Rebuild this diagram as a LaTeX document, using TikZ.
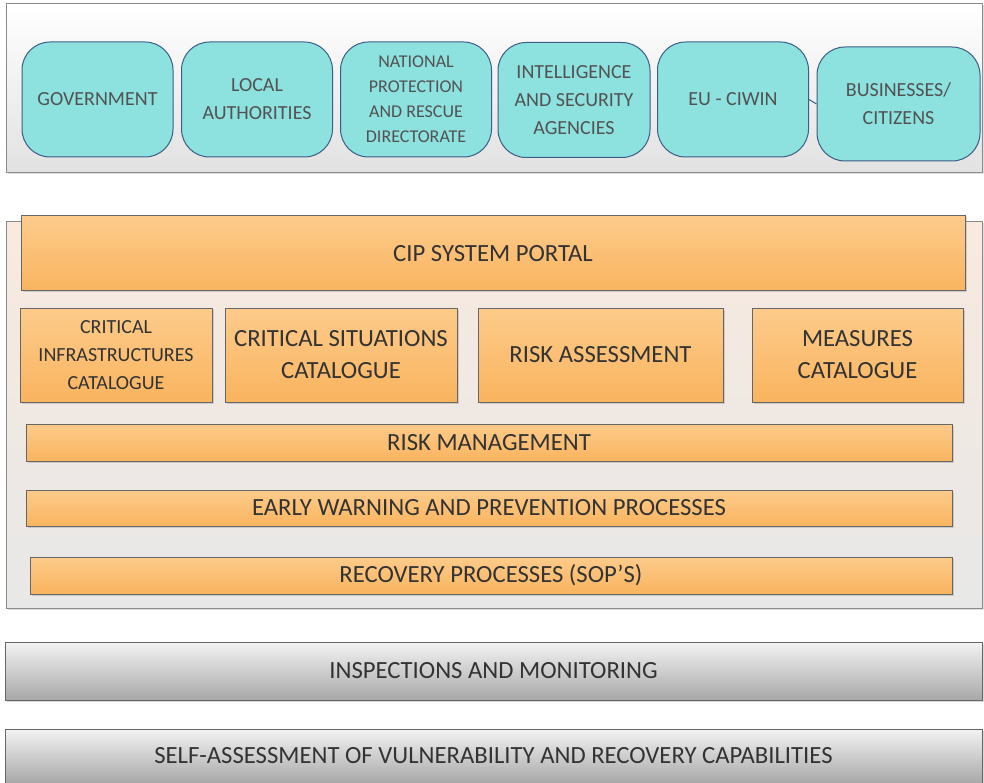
\documentclass[tikz,border=0pt]{standalone}
\usepackage{fontspec}
\setmainfont{Carlito}
\usepackage{tikz}
\usetikzlibrary{shadows}

\definecolor{cyanfill}{HTML}{8DE2E0}
\definecolor{cyanline}{HTML}{3C5D85}
\definecolor{orangetop}{HTML}{FDCB8B}
\definecolor{orangebot}{HTML}{F9B45F}
\definecolor{boxline}{HTML}{666666}
\definecolor{peach}{HTML}{F8EADF}
\definecolor{frameline}{HTML}{8A8A8A}
\definecolor{graytop}{HTML}{F3F3F3}
\definecolor{graybot}{HTML}{A8A8A8}
\definecolor{txtdark}{HTML}{333333}

\begin{document}
\begin{tikzpicture}[x=1pt,y=-1pt,
  frame/.style={draw=frameline,line width=1pt,inner sep=0pt,
    drop shadow={opacity=0.25,shadow xshift=1.5pt,shadow yshift=-1.5pt}},
  actor/.style={draw=cyanline,fill=cyanfill,line width=1pt,rounded corners=28pt,
    minimum width=151pt,minimum height=115pt,inner sep=0pt,align=center,
    text=txtdark!85,font=\fontsize{20}{28}\selectfont},
  module/.style={draw=boxline,line width=1pt,top color=orangetop,bottom color=orangebot,
    inner sep=0pt,align=center,text=txtdark,font=\fontsize{24.7}{32}\selectfont,
    drop shadow={opacity=0.3,shadow xshift=1.5pt,shadow yshift=-1.5pt}},
  layer/.style={draw=boxline,line width=1pt,top color=graytop,bottom color=graybot,
    minimum width=977pt,inner sep=0pt,text=txtdark,font=\fontsize{24.7}{32}\selectfont,
    drop shadow={opacity=0.3,shadow xshift=1.5pt,shadow yshift=-1.5pt}}]
\useasboundingbox (0,0) rectangle (984,783);
% users
\node[frame,top color=white,bottom color=graytop!85!gray,minimum width=976pt,minimum height=169pt] (users) at (494,88.5) {};
\node[actor] (gov) at (97.5,99.5) {GOVERNMENT};
\node[actor] (local) at (257,99.5) {LOCAL\\AUTHORITIES};
\node[actor,font=\fontsize{18}{25}\selectfont] (natl) at (416,99.5) {NATIONAL\\PROTECTION\\AND RESCUE\\DIRECTORATE};
\node[actor,minimum width=152pt] (intel) at (574,100) {INTELLIGENCE\\AND SECURITY\\AGENCIES};
\node[actor] (eu) at (733,99.5) {EU - CIWIN};
\node[actor,minimum width=163pt,minimum height=114pt] (bus) at (898.5,104) {BUSINESSES/\\CITIZENS};
\draw[cyanline,line width=1pt] (eu.east) -- (bus.west);
% cip system
\node[frame,top color=peach,bottom color=graytop!90!gray,minimum width=976pt,minimum height=386pt] (cip) at (494,415) {};
\node[module,minimum width=944pt,minimum height=75pt] (portal) at (493,253.5) {CIP SYSTEM PORTAL};
\node[module,minimum width=192pt,minimum height=94pt,font=\fontsize{20}{28}\selectfont] (infra) at (116,355) {CRITICAL\\INFRASTRUCTURES\\CATALOGUE};
\node[module,minimum width=232pt,minimum height=94pt] (situ) at (341,355) {CRITICAL SITUATIONS\\CATALOGUE};
\node[module,minimum width=245pt,minimum height=94pt] (riskass) at (600.5,355) {RISK ASSESSMENT};
\node[module,minimum width=211pt,minimum height=94pt] (meas) at (857.5,355) {MEASURES\\CATALOGUE};
\node[module,minimum width=926pt,minimum height=37pt] (riskman) at (489,442.5) {RISK MANAGEMENT};
\node[module,minimum width=926pt,minimum height=36pt] (early) at (489,508) {EARLY WARNING AND PREVENTION PROCESSES};
\node[module,minimum width=922pt,minimum height=37pt] (recov) at (491,575.5) {RECOVERY PROCESSES (SOP'S)};
% control layers
\node[layer,minimum height=58pt] (insp) at (493.5,671) {INSPECTIONS AND MONITORING};
\node[layer,minimum height=54pt] (self) at (493.5,756) {SELF-ASSESSMENT OF VULNERABILITY AND RECOVERY CAPABILITIES};
\end{tikzpicture}
\end{document}
